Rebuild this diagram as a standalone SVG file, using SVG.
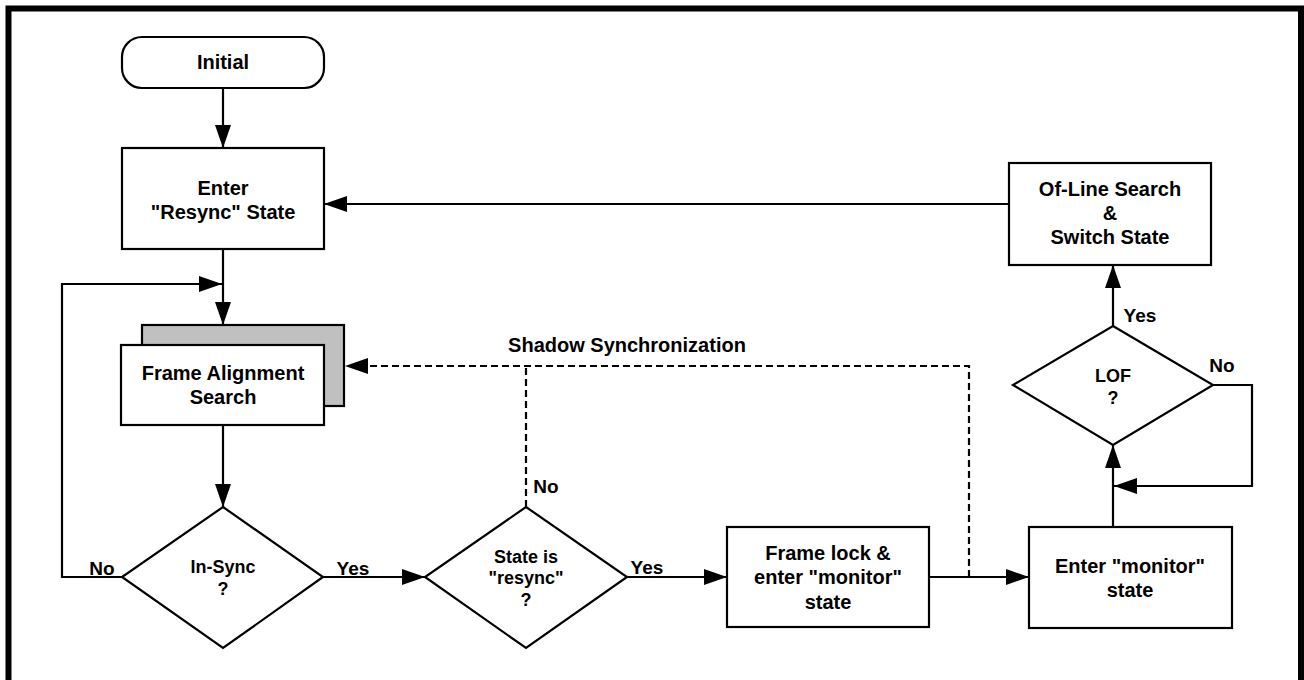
<svg xmlns="http://www.w3.org/2000/svg" width="1304" height="680" viewBox="0 0 1304 680">
<style>
.box{fill:#fff;stroke:#000;stroke-width:2.2}
.shadow{fill:#c0c0c0;stroke:#000;stroke-width:2.2}
.t{font-family:"Liberation Sans",Arial,sans-serif;font-weight:bold;font-size:20px;text-anchor:middle;fill:#000}
.d{font-size:18px}
.lbl{font-size:19px}
.c{fill:none;stroke:#000;stroke-width:2.2}
.dash{stroke-dasharray:7,4}
</style>
<defs>
<marker id="arr" markerUnits="userSpaceOnUse" markerWidth="23" markerHeight="16" refX="23" refY="8" orient="auto" overflow="visible">
<path d="M0,0 L23,8 L0,16 z" fill="#000"/>
</marker>
</defs>
<rect width="1304" height="680" fill="#fff"/>
<path d="M8.5,680 V8.5 H1301 V680" fill="none" stroke="#000" stroke-width="6"/>

<g id="connectors">
<path class="c" d="M223,88 V148" marker-end="url(#arr)"/>
<path class="c" d="M223,249 V325" marker-end="url(#arr)"/>
<path class="c" d="M122,577 H62 V284 H222" marker-end="url(#arr)"/>
<path class="c" d="M223,425 V507" marker-end="url(#arr)"/>
<path class="c" d="M323,577 H425" marker-end="url(#arr)"/>
<path class="c" d="M627,577 H727" marker-end="url(#arr)"/>
<path class="c" d="M929,577 H1029" marker-end="url(#arr)"/>
<path class="c" d="M1113,527 V445" marker-end="url(#arr)"/>
<path class="c" d="M1213,385 H1252 V486 H1114" marker-end="url(#arr)"/>
<path class="c" d="M1113,326 V265" marker-end="url(#arr)"/>
<path class="c" d="M1009,204 H324" marker-end="url(#arr)"/>
<path class="c dash" d="M969,577 V366 H345" marker-end="url(#arr)"/>
<path class="c dash" d="M526,507 V366"/>
</g>

<g id="initial">
<rect class="box" x="122" y="37" width="202" height="51" rx="20" ry="20"/>
<text class="t" x="223" y="69">Initial</text>
</g>

<g id="resync">
<rect class="box" x="122" y="148" width="202" height="101"/>
<text class="t" x="223" y="195">Enter</text>
<text class="t" x="223" y="219">"Resync" State</text>
</g>

<g id="frame-alignment">
<rect class="shadow" x="142" y="325" width="202" height="81"/>
<rect class="box" x="121" y="345" width="203" height="80"/>
<text class="t" x="223" y="380">Frame Alignment</text>
<text class="t" x="223" y="404">Search</text>
</g>

<g id="in-sync">
<polygon class="box" points="223,507 323,577 223,648 122,577"/>
<text class="t d" x="223" y="572.5">In-Sync</text>
<text class="t d" x="223" y="594.5">?</text>
</g>

<g id="state-resync">
<polygon class="box" points="526,507 627,577 526,648 425,577"/>
<text class="t d" x="526" y="562.5">State is</text>
<text class="t d" x="526" y="583.5">"resync"</text>
<text class="t d" x="526" y="605.5">?</text>
</g>

<g id="frame-lock">
<rect class="box" x="727" y="527" width="202" height="100"/>
<text class="t" x="828" y="560">Frame lock &amp;</text>
<text class="t" x="828" y="584">enter "monitor"</text>
<text class="t" x="828" y="609">state</text>
</g>

<g id="enter-monitor">
<rect class="box" x="1029" y="527" width="203" height="101"/>
<text class="t" x="1130" y="573">Enter "monitor"</text>
<text class="t" x="1130" y="597">state</text>
</g>

<g id="lof">
<polygon class="box" points="1113,326 1213,385 1113,445 1013,385"/>
<text class="t d" x="1113" y="381.5">LOF</text>
<text class="t d" x="1113" y="403.5">?</text>
</g>

<g id="offline">
<rect class="box" x="1009" y="163" width="202" height="102"/>
<text class="t" x="1110" y="196">Of-Line Search</text>
<text class="t" x="1110" y="220">&amp;</text>
<text class="t" x="1110" y="244">Switch State</text>
</g>

<g id="labels">
<text class="t" x="627" y="352">Shadow Synchronization</text>
<text class="t lbl" x="102" y="575">No</text>
<text class="t lbl" x="353" y="575">Yes</text>
<text class="t lbl" x="546" y="493">No</text>
<text class="t lbl" x="647" y="574">Yes</text>
<text class="t lbl" x="1140" y="322">Yes</text>
<text class="t lbl" x="1222" y="372">No</text>
</g>
</svg>
